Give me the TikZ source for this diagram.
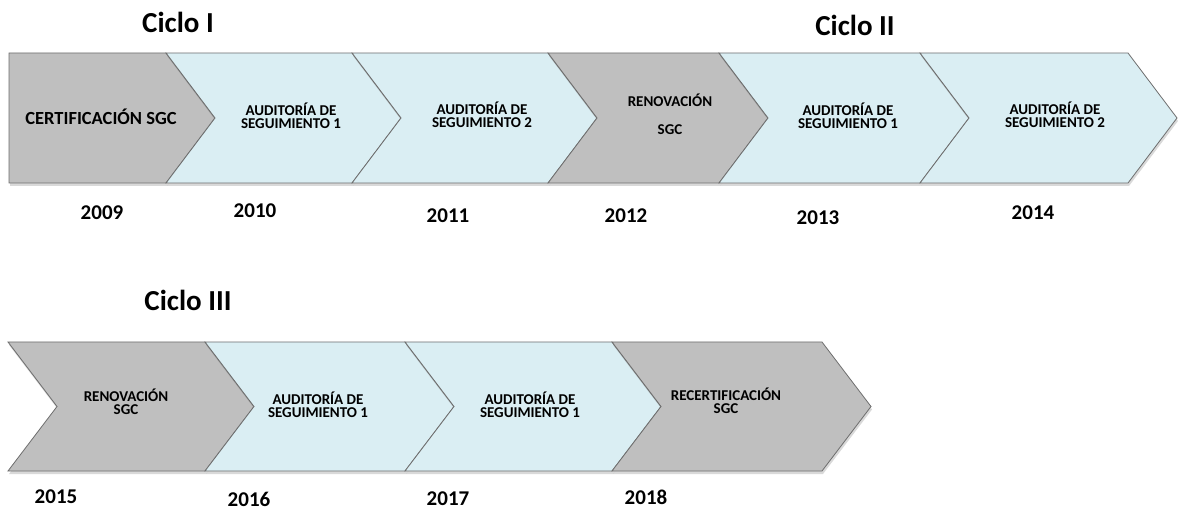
\documentclass[tikz,border=0pt]{standalone}
\usepackage{fontspec}
\setmainfont{Carlito}
\usetikzlibrary{shadows}
\definecolor{grisSGC}{HTML}{BFBFBF}
\definecolor{azulSGC}{HTML}{DAEEF3}
\definecolor{bordeSGC}{HTML}{6E6E6E}
\def\pt{49}
\def\chevron[#1](#2:#3:#4:#5:#6){\draw[#1] (#2,#4) -- (#3,#4) -- (#3+\pt,#5) -- (#3,#6) -- (#2,#6) -- (#2+\pt,#5) -- cycle;}
\tikzset{
	paso/.style={draw=bordeSGC, line width=0.8pt, line join=miter,
		drop shadow={opacity=0.3, shadow xshift=1pt, shadow yshift=-3pt}},
	gris/.style={paso, fill=grisSGC},
	azul/.style={paso, fill=azulSGC},
	etiqueta/.style={font=\bfseries\fontsize{15}{13}\selectfont, align=center, inner sep=0pt},
	anio/.style={font=\bfseries\fontsize{21}{24}\selectfont, inner sep=0pt},
	ciclo/.style={font=\bfseries\fontsize{29}{32}\selectfont, inner sep=0pt}
}

\begin{document}
\begin{tikzpicture}[x=1pt, y=-1pt]
		%%%%% START %%%%%
		\useasboundingbox (0,0) rectangle (1178,510);
		
		% ciclo I y II
		\draw[gris] (9,53) -- (166,53) -- (166+\pt,118) -- (166,183) -- (9,183) -- cycle;
		\chevron[azul](166:352:53:118:183);
		\chevron[azul](352:548:53:118:183);
		\chevron[gris](548:719:53:118:183);
		\chevron[azul](719:920:53:118:183);
		\chevron[azul](920:1128:53:118:183);
		
		% ciclo III
		\chevron[gris](8:205:342:406.5:471);
		\chevron[azul](205:405:342:406.5:471);
		\chevron[azul](405:612:342:406.5:471);
		\chevron[gris](612:822:342:406.5:471);
		
		\node[ciclo] (cicloI) at (178,22) {Ciclo I};
		\node[ciclo] (cicloII) at (855,25) {Ciclo II};
		\node[ciclo] (cicloIII) at (188,300) {Ciclo III};
		
		\node[etiqueta, font=\bfseries\fontsize{18.5}{20}\selectfont] (p1) at (101,117) {CERTIFICACIÓN SGC};
		\node[etiqueta] (p2) at (291,116) {AUDITORÍA DE\\SEGUIMIENTO 1};
		\node[etiqueta] (p3) at (482,115) {AUDITORÍA DE\\SEGUIMIENTO 2};
		\node[etiqueta, font=\bfseries\fontsize{15}{28}\selectfont] (p4) at (670,114) {RENOVACIÓN\\SGC};
		\node[etiqueta] (p5) at (848,116) {AUDITORÍA DE\\SEGUIMIENTO 1};
		\node[etiqueta] (p6) at (1055,115) {AUDITORÍA DE\\SEGUIMIENTO 2};
		
		\node[etiqueta] (p7) at (126,402) {RENOVACIÓN\\SGC};
		\node[etiqueta] (p8) at (318,405) {AUDITORÍA DE\\SEGUIMIENTO 1};
		\node[etiqueta] (p9) at (530,405) {AUDITORÍA DE\\SEGUIMIENTO 1};
		\node[etiqueta] (p10) at (726,401) {RECERTIFICACIÓN\\SGC};
		
		\node[anio] (a2009) at (102,213) {2009};
		\node[anio] (a2010) at (255,211) {2010};
		\node[anio] (a2011) at (448,216) {2011};
		\node[anio] (a2012) at (626,216) {2012};
		\node[anio] (a2013) at (818,218) {2013};
		\node[anio] (a2014) at (1033,213) {2014};
		
		\node[anio] (a2015) at (56,497) {2015};
		\node[anio] (a2016) at (249,499) {2016};
		\node[anio] (a2017) at (448,499) {2017};
		\node[anio] (a2018) at (646,497) {2018};
		
		%%%%% END %%%%%
	\end{tikzpicture}
\end{document}
